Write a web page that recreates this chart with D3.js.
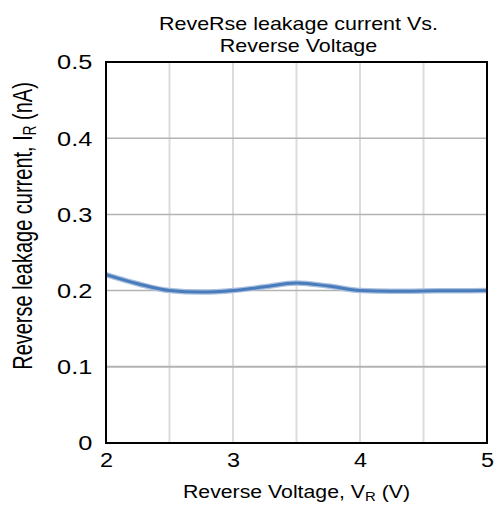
<!DOCTYPE html>
<html><head><meta charset="utf-8">
<script src="https://cdn.jsdelivr.net/npm/d3@7"></script>
<style>body{margin:0;background:#fff;}text{font-family:"Liberation Sans",Arial,sans-serif;fill:#000;}</style>
</head><body>
<svg id="c" width="498" height="513"></svg>
<script>
const voltage = [2, 2.25, 2.5, 2.75, 3, 3.25, 3.5, 3.75, 4, 4.25, 4.5, 4.75, 5];
const current = [0.221, 0.209, 0.200, 0.198, 0.200, 0.205, 0.210, 0.206, 0.200, 0.199, 0.1995, 0.1998, 0.200];
const xTicks = [2, 3, 4, 5];
const yTicks = [0, 0.1, 0.2, 0.3, 0.4, 0.5];
const xMinor = [2.5, 3, 3.5, 4, 4.5];
const yGrid = [0.1, 0.2, 0.3, 0.4];

const svg = d3.select("#c");
const L = 106, R = 487, T = 62, B = 443;
const x = d3.scaleLinear().domain([2, 5]).range([L, R]);
const y = d3.scaleLinear().domain([0, 0.5]).range([B, T]);

// vertical grid
svg.selectAll(".vg").data(xMinor).enter().append("line")
  .attr("x1", d => x(d)).attr("x2", d => x(d)).attr("y1", T).attr("y2", B)
  .attr("stroke", "#dcdcdc").attr("stroke-width", 2);
// horizontal grid
svg.selectAll(".hg").data(yGrid).enter().append("line")
  .attr("x1", L).attr("x2", R).attr("y1", d => y(d)).attr("y2", d => y(d))
  .attr("stroke", "#b3b3b3").attr("stroke-width", d => d === 0.1 ? 2 : 1.5);

// line
const line = d3.line().x((d, i) => x(voltage[i])).y(d => y(d)).curve(d3.curveMonotoneX);
svg.append("path").datum(current).attr("d", line)
  .attr("fill", "none").attr("stroke", "#a9c0e0").attr("stroke-width", 5.5);
svg.append("path").datum(current).attr("d", line)
  .attr("fill", "none").attr("stroke", "#4a7cbc").attr("stroke-width", 3);

// frame
svg.append("rect").attr("x", L).attr("y", T).attr("width", R - L).attr("height", B - T)
  .attr("fill", "none").attr("stroke", "#000").attr("stroke-width", 2);

// axes via d3
const xAxis = svg.append("g").attr("transform", `translate(0,${B})`)
  .call(d3.axisBottom(x).tickValues(xTicks).tickFormat(d3.format("d")).tickSize(0).tickPadding(10));
xAxis.select(".domain").remove();
xAxis.selectAll("text").style("font-size", "19.5px").attr("font-family", null)
  .attr("transform", "scale(1.2,1)");

const yAxis = svg.append("g").attr("transform", `translate(${L},0)`)
  .call(d3.axisLeft(y).tickValues(yTicks).tickFormat(d => d === 0 ? "0" : d3.format(".1f")(d)).tickSize(0).tickPadding(10.5));
yAxis.select(".domain").remove();
yAxis.selectAll("text").style("font-size", "19.5px").attr("font-family", null).attr("dy", "0.35em")
  .attr("transform", "scale(1.3,1)");

// title
svg.append("text").attr("transform", "translate(298.5,30) scale(1.16,1)").attr("text-anchor", "middle").style("font-size", "18.5px").text("ReveRse leakage current Vs.");
svg.append("text").attr("transform", "translate(298.5,52) scale(1.16,1)").attr("text-anchor", "middle").style("font-size", "18.5px").text("Reverse Voltage");

// x label
const xl = svg.append("text").attr("transform", "translate(296.5,498) scale(1.15,1)").attr("text-anchor", "middle").style("font-size", "18.5px");
xl.append("tspan").text("Reverse Voltage, V");
xl.append("tspan").text("R").style("font-size", "13px").attr("dy", 3);
xl.append("tspan").text(" (V)").attr("dy", -3);

// y label
const yl = svg.append("text").attr("transform", "translate(32,226) scale(1.4,1) rotate(-90)").attr("text-anchor", "middle").style("font-size", "20px");
yl.append("tspan").text("Reverse leakage current, I");
yl.append("tspan").text("R").style("font-size", "13.5px").attr("dy", 3);
yl.append("tspan").text(" (nA)").attr("dy", -3);
</script>
</body></html>
